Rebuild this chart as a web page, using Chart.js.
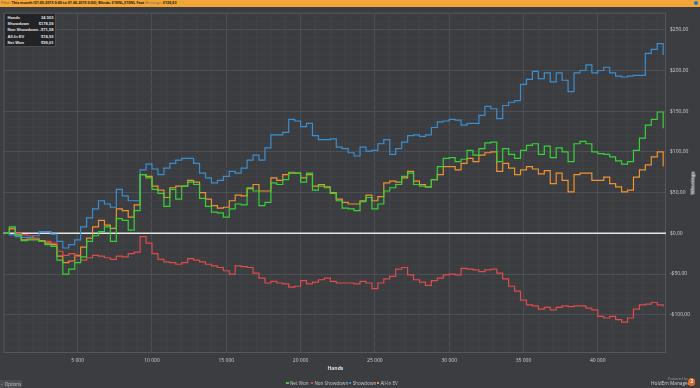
<!DOCTYPE html>
<html>
<head>
<meta charset="utf-8">
<script src="https://cdn.jsdelivr.net/npm/chart.js@4.4.1/dist/chart.umd.min.js"></script>
<style>
  html, body { margin: 0; padding: 0; background: #3b3d41; overflow: hidden; }
  #wrap { position: relative; width: 700px; height: 388px; font-family: "Open Sans", "Noto Sans", sans-serif; color: #d8d8d8; }
  #chart { position: absolute; left: 0; top: 0; }
  .abs { position: absolute; white-space: nowrap; }
  #filterBar { left: 0; top: 0; width: 700px; height: 6.5px; background: #f2a63a; font-size: 3.7px; line-height: 6.5px; color: #5a4420; }
  #filterBar b { color: #1e1606; }
  #filterBar em { font-style: normal; color: #7d6234; }
  #info { right: 2px; top: 1.3px; width: 4px; height: 4px; border-radius: 50%; background: #2f6fc0; }
  #stats { left: 4px; top: 12.7px; width: 52px; height: 34px; background: #222326; border: 1px solid #4a4c50; box-sizing: border-box; font-family: "Liberation Sans", Arial, sans-serif; font-size: 4.1px; font-weight: bold; color: #e6e6e6; }
  #stats div { position: absolute; left: 2.5px; right: 1.5px; height: 6px; line-height: 6px; }
  #stats span { position: absolute; right: 0; }
  .legend { top: 379.5px; font-size: 4.6px; line-height: 6px; color: #c8c8c8; }
  .legend i { display: inline-block; width: 2.6px; height: 2.6px; margin-right: 1.3px; vertical-align: 0.2px; }
</style>
</head>
<body>
<div id="wrap">
  <canvas id="chart" width="700" height="388"></canvas>
  <div id="filterBar" class="abs">&nbsp;Filter: <b>This month (01.05.2015 0:00 to 01.06.2015 0:00); Blinds: $10NL,$10NL Fast</b> <em>Winnings:</em> <b>$126,63</b></div>
  <div id="info" class="abs"></div>
  <div id="stats" class="abs"></div>
  <div id="xTitle" class="abs" style="left:327.5px;top:364.8px;font-size:5px;font-weight:bold;color:#e0e0e0;">Hands</div>
  <div id="yTitle" class="abs" style="left:681px;top:180px;font-size:5px;font-weight:bold;color:#e0e0e0;transform:rotate(-90deg);transform-origin:50% 50%;">Winnings</div>
  <div id="legend"></div>
  <div class="abs" style="left:0;top:380px;width:22px;height:8px;background:#4b4d51;font-size:4.4px;line-height:8px;color:#c8c8c8;">&nbsp;- &nbsp;Options</div>
  <div class="abs" style="left:668px;top:375.8px;font-size:3.6px;color:#9a9a9a;">Powered by</div>
  <div class="abs" style="left:651px;top:379.7px;font-size:4.8px;color:#cfcfcf;">HoldEm Manager</div>
  <div class="abs" style="left:688px;top:378.3px;width:7.4px;height:7.4px;border-radius:50%;background:#e26a2c;font-size:5px;line-height:7.4px;text-align:center;color:#fff;font-weight:bold;">2</div>
</div>
<script>
// hands played (x axis)
var hands = [0, 400, 800, 1200, 1600, 2000, 2400, 2800, 3200, 3600,
  4000, 4400, 4800, 5200, 5600, 6000, 6400, 6800, 7200, 7600,
  8000, 8400, 8800, 9200, 9600, 10000, 10400, 10800, 11200, 11600,
  12000, 12400, 12800, 13200, 13600, 14000, 14400, 14800, 15200, 15600,
  16000, 16400, 16800, 17200, 17600, 18000, 18400, 18800, 19200, 19600,
  20000, 20400, 20800, 21200, 21600, 22000, 22400, 22800, 23200, 23600,
  24000, 24400, 24800, 25200, 25600, 26000, 26400, 26800, 27200, 27600,
  28000, 28400, 28800, 29200, 29600, 30000, 30400, 30800, 31200, 31600,
  32000, 32400, 32800, 33200, 33600, 34000, 34400, 34800, 35200, 35600,
  36000, 36400, 36800, 37200, 37600, 38000, 38400, 38800, 39200, 39600,
  40000, 40400, 40800, 41200, 41600, 42000, 42400, 42800, 43200, 43600,
  44000, 44400];

// winnings in $
var netWon = [0, 8, -2, -9, -8, -8, -10, -14, -16, -33,
  -50, -44, -36, -29, -10, -3, 2, 8, -10, 18,
  16, 4, 28, 72, 68, 54, 49, 33, 54, 42,
  58, 63, 60, 43, 33, 26, 25, 20, 30, 36,
  35, 56, 52, 34, 38, 62, 60, 66, 75, 74,
  63, 74, 53, 58, 56, 49, 40, 31, 30, 28,
  39, 44, 30, 36, 52, 56, 60, 70, 74, 60,
  58, 57, 66, 82, 92, 93, 88, 91, 102, 96,
  104, 111, 112, 88, 104, 97, 92, 102, 108, 110,
  97, 107, 93, 105, 100, 88, 110, 113, 110, 100,
  98, 97, 94, 89, 85, 88, 102, 117, 133, 140,
  149, 129];

var nonShowdown = [0, 5, 0, -2, -3, -6, -10, -10, -12, -22,
  -27, -25, -28, -33, -30, -27, -28, -30, -32, -28,
  -29, -25, -23, -4, -12, -25, -32, -35, -36, -38,
  -36, -31, -33, -35, -38, -40, -42, -46, -50, -40,
  -41, -42, -49, -55, -61, -59, -61, -62, -66, -65,
  -58, -62, -60, -57, -55, -59, -61, -61, -61, -62,
  -59, -61, -68, -61, -56, -53, -44, -42, -51, -57,
  -60, -64, -58, -55, -51, -50, -51, -43, -44, -45,
  -47, -45, -44, -49, -56, -65, -71, -82, -88, -89,
  -93, -91, -94, -91, -89, -90, -89, -89, -92, -94,
  -102, -104, -102, -106, -109, -104, -93, -88, -87, -85,
  -88, -90];

var showdown = [0, -2, -4, -5, -5, -3, 2, 2, -1, -10,
  -18, -14, -8, 8, 19, 30, 40, 36, 32, 54,
  46, 40, 40, 78, 85, 79, 72, 80, 86, 90,
  92, 92, 86, 74, 68, 62, 65, 70, 76, 74,
  80, 90, 96, 90, 105, 121, 121, 124, 140, 138,
  131, 135, 120, 115, 115, 116, 106, 104, 99, 95,
  106, 101, 102, 110, 115, 97, 104, 112, 120, 121,
  119, 121, 130, 137, 138, 140, 139, 133, 135, 135,
  145, 156, 153, 141, 157, 161, 163, 183, 189, 199,
  190, 197, 186, 197, 188, 174, 197, 200, 207, 197,
  200, 204, 197, 193, 192, 193, 194, 194, 221, 226,
  233, 219];

var allInEV = [0, 6, -2, -8, -7, -7, -9, -12, -14, -28,
  -36, -34, -27, -17, -6, 8, 16, 10, 6, 30,
  28, 20, 35, 72, 70, 58, 53, 44, 56, 58,
  58, 65, 63, 50, 42, 34, 31, 32, 40, 47,
  46, 55, 60, 52, 52, 68, 65, 72, 74, 74,
  68, 72, 58, 60, 57, 50, 42, 38, 36, 36,
  40, 47, 40, 45, 62, 64, 63, 68, 76, 64,
  60, 57, 66, 72, 82, 82, 78, 86, 92, 88,
  96, 99, 100, 76, 86, 80, 72, 78, 82, 79,
  73, 77, 61, 74, 65, 51, 72, 74, 74, 65,
  65, 69, 61, 57, 51, 53, 69, 78, 84, 94,
  100, 82];

var seriesNames = ['Net Won', 'Non Showdown', 'Showdown', 'All-In EV'];
var seriesColors = ['#35d335', '#e04b4b', '#3a8fd3', '#f0922e'];
var statLabels = ['Hands', 'Showdown', 'Non Showdown', 'All-In EV', 'Net Won'];
var statValues = ['34 503', '$178,59', '-$71,58', '$74,93', '$99,01'];

// axis ticks: labelled ones, plus the small step of the fine grid
var xLabelTicks = [5000, 10000, 15000, 20000, 25000, 30000, 35000, 40000];
var xMinorStep = 1000;
var yLabelTicks = [-100, -50, 0, 50, 100, 150, 200, 250];
var yMinorStep = 10;

// stats box
var statsBox = document.getElementById('stats');
statLabels.forEach(function (l, i) {
  var row = document.createElement('div');
  row.style.top = (1.6 + i * 6.1) + 'px';
  row.innerHTML = l + '<span>' + statValues[i] + '</span>';
  statsBox.appendChild(row);
});

// legend
var legendX = [286, 310.5, 348.8, 376.5];
var legendBox = document.getElementById('legend');
seriesNames.forEach(function (n, i) {
  var d = document.createElement('div');
  d.className = 'abs legend';
  d.style.left = legendX[i] + 'px';
  d.innerHTML = '<i style="background:' + seriesColors[i] + '"></i>' + n;
  legendBox.appendChild(d);
});

function pts(arr) {
  return arr.map(function (v, i) { return { x: hands[i], y: v }; });
}

function money(v) {
  return (v < 0 ? '-' : '') + '$' + Math.abs(v).toFixed(2).replace('.', ',');
}

function gridTicks(min, max, step) {
  var out = [];
  for (var v = Math.ceil(min / step) * step; v <= max; v += step) out.push({ value: v });
  return out;
}

var frame = {
  id: 'frame',
  beforeDatasetsDraw: function (chart) {
    var c = chart.ctx, a = chart.chartArea;
    c.save();
    c.strokeStyle = '#55575c';
    c.lineWidth = 1;
    c.strokeRect(a.left + 0.5, a.top + 0.5, a.right - a.left - 1, a.bottom - a.top - 1);
    var y0 = chart.scales.y.getPixelForValue(0);
    c.strokeStyle = '#e6e6e6';
    c.lineWidth = 1.5;
    c.beginPath();
    c.moveTo(a.left, y0);
    c.lineTo(a.right, y0);
    c.stroke();
    c.restore();
  }
};

new Chart('chart', {
  type: 'line',
  data: {
    datasets: [
      { label: seriesNames[0], data: pts(netWon), borderColor: seriesColors[0] },
      { label: seriesNames[1], data: pts(nonShowdown), borderColor: seriesColors[1] },
      { label: seriesNames[2], data: pts(showdown), borderColor: seriesColors[2] },
      { label: seriesNames[3], data: pts(allInEV), borderColor: seriesColors[3] }
    ]
  },
  options: {
    responsive: false,
    animation: false,
    layout: { padding: { left: 3.4, top: 12.7, right: 0, bottom: 0 } },
    elements: {
      line: { borderWidth: 1.2, tension: 0, stepped: true },
      point: { radius: 0 }
    },
    plugins: { legend: { display: false }, tooltip: { enabled: false } },
    scales: {
      x: {
        type: 'linear',
        min: 0,
        max: 44590,
        afterBuildTicks: function (s) { s.ticks = gridTicks(xMinorStep, s.max - 1, xMinorStep); },
        afterFit: function (s) { s.height = 35; },
        ticks: {
          autoSkip: false,
          maxRotation: 0,
          padding: 4.5,
          color: '#cfcfcf',
          font: { size: 5, family: 'Open Sans' },
          callback: function (v) {
            return xLabelTicks.indexOf(v) >= 0 ? String(v).replace(/(\d+)(\d{3})$/, '$1 $2') : '';
          }
        },
        grid: {
          drawTicks: false,
          color: function (ctx) {
            return ctx.tick && xLabelTicks.indexOf(ctx.tick.value) >= 0 ? '#4d4f54' : '#414347';
          }
        },
        border: { display: false }
      },
      y: {
        position: 'right',
        min: -147,
        max: 271,
        afterBuildTicks: function (s) { s.ticks = gridTicks(s.min + 1, s.max - 1, yMinorStep); },
        afterFit: function (s) { s.width = 34; },
        ticks: {
          autoSkip: false,
          padding: 4,
          color: '#cfcfcf',
          font: { size: 5, family: 'Open Sans' },
          callback: function (v) { return yLabelTicks.indexOf(v) >= 0 ? money(v) : ''; }
        },
        grid: {
          drawTicks: false,
          color: function (ctx) {
            return ctx.tick && yLabelTicks.indexOf(ctx.tick.value) >= 0 ? '#4d4f54' : '#3f4145';
          }
        },
        border: { display: false }
      }
    }
  },
  plugins: [frame]
});
</script>
</body>
</html>
